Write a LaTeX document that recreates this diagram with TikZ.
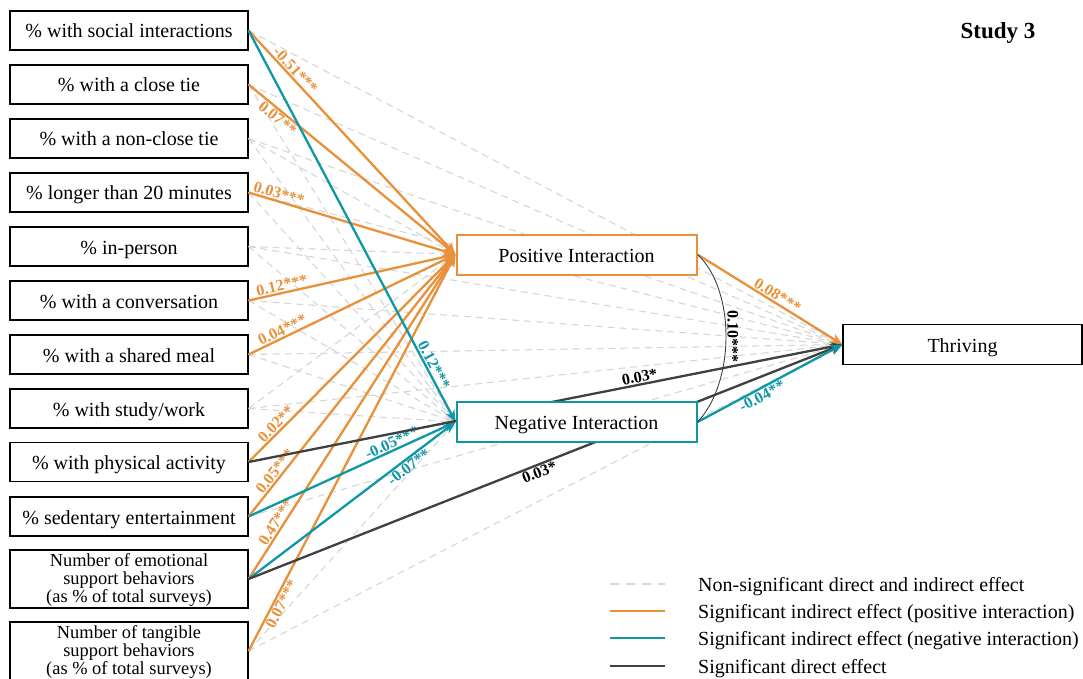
\documentclass[tikz,border=0pt]{standalone}
\usepackage{fontspec}
\setmainfont{Liberation Serif}
\usetikzlibrary{arrows.meta}
\definecolor{posc}{RGB}{232,145,58}
\definecolor{negc}{RGB}{14,152,166}
\definecolor{dirc}{RGB}{64,64,64}
\definecolor{nsc}{RGB}{214,214,214}
% three centred lines whose baseline is the first line
\newcommand\threeline[3]{\begin{tabular}[t]{@{}c@{}}#1\\#2\\#3\end{tabular}}

\begin{document}
\begin{tikzpicture}[x=1pt,y=-1pt,
  varbox/.style={draw=black, line width=1.1pt, fill=white, minimum width=238pt,
    minimum height=39pt, inner sep=0pt, align=center,
    text height=18.5pt, text depth=3.5pt,
    font=\fontsize{20}{22}\selectfont},
  tallbox/.style={draw=black, line width=1.1pt, fill=white, minimum width=238pt,
    minimum height=58pt, inner sep=0pt, text height=14pt, text depth=38.6pt,
    font=\fontsize{18.4}{17.5}\selectfont},
  medbox/.style={draw=#1, line width=2pt, fill=white, minimum width=240pt,
    minimum height=40pt, inner sep=0pt, text height=18.5pt, text depth=3.5pt,
    font=\fontsize{20}{22}\selectfont},
  outbox/.style={varbox, minimum width=239pt, minimum height=40pt},
  nsline/.style={draw=nsc, line width=1.1pt, dash pattern=on 7pt off 5pt,
    -{Stealth[length=9pt,width=7pt]}},
  sigline/.style={draw=#1, line width=2.3pt, -{Stealth[length=12pt,width=10pt]}},
  lab/.style={font=\fontsize{16}{16}\selectfont\bfseries, sloped, inner sep=1pt, text=#1},
  legtext/.style={anchor=base west, inner sep=0pt, font=\fontsize{20}{22}\selectfont}
]
\useasboundingbox (0,0) rectangle (1083,679);
\clip (0,0) rectangle (1083,679);

% predictors
\node[varbox]  (l1)  at (129,30.5)  {\% with social interactions};
\node[varbox]  (l2)  at (129,84.5)  {\% with a close tie};
\node[varbox]  (l3)  at (129,138.5) {\% with a non-close tie};
\node[varbox]  (l4)  at (129,192.5) {\% longer than 20 minutes};
\node[varbox]  (l5)  at (129,246.5) {\% in-person};
\node[varbox]  (l6)  at (129,300.5) {\% with a conversation};
\node[varbox]  (l7)  at (129,354.5) {\% with a shared meal};
\node[varbox]  (l8)  at (129,408.5) {\% with study/work};
\node[varbox]  (l9)  at (129,462)   {\% with physical activity};
\node[varbox]  (l10) at (129,516.5) {\% sedentary entertainment};
\node[tallbox] (l11) at (129,579)   {\threeline{Number of emotional}{support behaviors}{(as \% of total surveys)}};
\node[tallbox] (l12) at (129,651)   {\threeline{Number of tangible}{support behaviors}{(as \% of total surveys)}};

% mediators and outcome (anchors first, boxes drawn over the paths later)
\path (576.5,254.5) coordinate (pc);
\path (576.5,422) coordinate (nc);
\path (962.5,344.5) coordinate (tc);
\node[medbox=posc, draw=none, fill=none] (pos) at (pc) {\phantom{Positive Interaction}};
\node[medbox=negc, draw=none, fill=none] (neg) at (nc) {\phantom{Negative Interaction}};
\node[outbox, draw=none, fill=none] (thr) at (tc) {\phantom{Thriving}};

% non-significant paths
\foreach \i in {3,5,8} \draw[nsline] (l\i.east) -- (pos.west);
\foreach \i in {2,3,4,5,6,7,8,9,12} \draw[nsline] (l\i.east) -- (neg.west);
\foreach \i in {1,2,3,4,5,6,7,8,10,12} \draw[nsline] (l\i.east) -- (thr.west);

% indirect paths through positive interaction
\draw[sigline=posc] (l1.east)  -- node[lab=posc,pos=0.20,above]{-0.51***} (pos.west);
\draw[sigline=posc] (l2.east)  -- node[lab=posc,pos=0.164,below]{0.07**} (pos.west);
\draw[sigline=posc] (l4.east)  -- node[lab=posc,pos=0.137,above]{0.03***} (pos.west);
\draw[sigline=posc] (l6.east)  -- node[lab=posc,pos=0.169,above]{0.12***} (pos.west);
\draw[sigline=posc] (l7.east)  -- node[lab=posc,pos=0.179,above]{0.04***} (pos.west);
\draw[sigline=posc] (l9.east)  -- node[lab=posc,pos=0.158,above]{0.02**} (pos.west);
\draw[sigline=posc] (l10.east) -- node[lab=posc,pos=0.156,above]{0.05***} (pos.west);
\draw[sigline=posc] (l11.east) -- node[lab=posc,pos=0.163,above]{0.47***} (pos.west);
\draw[sigline=posc] (l12.east) -- node[lab=posc,pos=0.127,below]{0.07***} (pos.west);

% indirect paths through negative interaction
\draw[sigline=negc] (l1.east)  -- node[lab=negc,pos=0.864,above]{0.12***} (neg.west);
\draw[sigline=negc] (l10.east) -- node[lab=negc,pos=0.708,above]{-0.05***} (neg.west);
\draw[sigline=negc] (l11.east) -- node[lab=negc,pos=0.752,below]{-0.07**} (neg.west);

% direct paths
\draw[sigline=dirc] (l9.east)  -- node[lab=black,pos=0.661,above]{0.03*} (thr.west);
\draw[sigline=dirc] (l11.east) -- node[lab=black,pos=0.485,below]{0.03*} (thr.west);

% mediator and outcome boxes
\node[medbox=posc] at (pc) {Positive Interaction};
\node[medbox=negc] at (nc) {Negative Interaction};
\node[outbox] at (tc) {Thriving};

% mediators to outcome
\draw[sigline=posc] (pos.east) -- node[lab=posc,pos=0.525,above]{0.08***} (thr.west);
\draw[sigline=negc] (neg.east) -- node[lab=negc,pos=0.42,below]{-0.04**} (thr.west);

% covariance between mediators
\draw[dirc, line width=0.9pt] (pos.east) .. controls +(38,35) and +(38,-40) ..
  node[lab=black,midway,above]{0.10***} (neg.east);

% title
\node[font=\fontsize{23}{25}\selectfont\bfseries] (title) at (998,33) {Study 3};

% legend
\coordinate (ka) at (610,584); \coordinate (kb) at (665,584);
\coordinate (kc) at (610,611); \coordinate (kd) at (665,611);
\coordinate (ke) at (610,638); \coordinate (kf) at (665,638);
\coordinate (kg) at (610,666); \coordinate (kh) at (665,666);
\draw[nsc, line width=1.6pt, dash pattern=on 9pt off 7pt] (ka) -- (kb);
\draw[posc, line width=2.3pt] (kc) -- (kd);
\draw[negc, line width=2.3pt] (ke) -- (kf);
\draw[dirc, line width=2.3pt] (kg) -- (kh);
\node[legtext] (t1) at (698,591.5) {Non-significant direct and indirect effect};
\node[legtext] (t2) at (698,618.5) {Significant indirect effect (positive interaction)};
\node[legtext] (t3) at (698,645.5) {Significant indirect effect (negative interaction)};
\node[legtext] (t4) at (698,673.5) {Significant direct effect};
\end{tikzpicture}
\end{document}
